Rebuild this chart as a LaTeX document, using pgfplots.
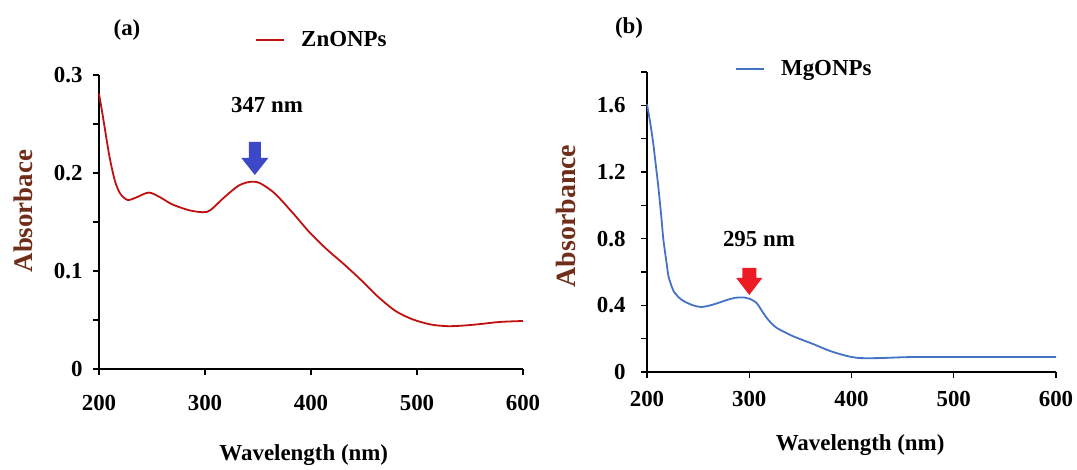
\documentclass[border=0pt]{standalone}
\usepackage{pgfplots}
\pgfplotsset{compat=1.18}
\usepackage{fontspec}
\setmainfont{Liberation Serif}

\definecolor{zncurve}{RGB}{192,16,16}
\definecolor{mgcurve}{RGB}{68,114,196}
\definecolor{arrowblue}{RGB}{60,72,200}
\definecolor{arrowred}{RGB}{237,28,36}
\definecolor{labelbrown}{RGB}{112,45,25}

\newcommand{\chartfont}{\fontsize{23}{26}\selectfont\bfseries}

\pgfplotsset{
  uvpanel/.style={
    scale only axis,
    clip=false,
    axis x line*=bottom,
    axis y line*=left,
    axis line style={line width=1.6bp, black},
    every tick/.style={line width=1.4bp, black},
    tick align=outside,
    major tick length=6bp,
    enlargelimits=false,
    xmin=200, xmax=600,
    xtick={200,300,400,500,600},
    /pgf/number format/assume math mode=true,
    tick label style={font=\chartfont, black},
    label style={font=\chartfont},
    ylabel style={rotate=0, color=labelbrown},
    legend style={draw=none, fill=none, font=\chartfont, inner sep=0pt,
                  legend cell align=left},
    legend image code/.code={%
      \draw[#1, line width=2bp] (0bp,0bp) -- (28bp,0bp);},
  },
}

% Absorbance spectra
\pgfplotstableread{
wl   abs
200  0.281
203  0.262
206  0.242
210  0.216
215  0.192
220  0.179
227  0.1725
235  0.175
247  0.180
258  0.175
269  0.168
285  0.162
298  0.160
305  0.162
318  0.175
331  0.1866
340  0.1905
347  0.191
353  0.189
366  0.179
383  0.159
399  0.139
415  0.122
431  0.107
448  0.090
464  0.073
480  0.059
496  0.0506
513  0.0454
529  0.0437
545  0.0444
561  0.046
578  0.048
600  0.049
}\zntable

\pgfplotstableread{
wl   abs
200  1.606
203  1.50
206  1.376
209  1.22
211  1.115
214  0.93
216  0.795
219  0.66
221  0.575
224  0.515
226  0.485
231  0.448
236  0.425
245  0.400
253  0.390
262  0.400
270  0.415
278  0.432
286  0.445
295  0.447
300  0.440
307  0.415
312  0.370
317  0.325
322  0.290
327  0.264
335  0.238
343  0.214
353  0.190
364  0.164
372  0.143
380  0.124
389  0.107
397  0.094
407  0.084
420  0.083
431  0.084
448  0.088
464  0.090
498  0.090
550  0.090
600  0.090
}\mgtable

\begin{document}
\begin{tikzpicture}[x=1bp,y=1bp]
\useasboundingbox (0,0) rectangle (1077,470);

% ---------- panel (a): ZnO nanoparticles ----------
\begin{axis}[uvpanel,
  at={(99bp,101bp)}, anchor=south west,
  width=424bp, height=294bp,
  ymin=0, ymax=0.3,
  ytick={0,0.05,0.1,0.15,0.2,0.25,0.3},
  yticklabels={0,,0.1,,0.2,,0.3},
  yticklabel style={xshift=-7bp},
  xticklabel style={yshift=-17bp},
  ylabel={Absorbace},
  ylabel style={at={(axis description cs:-0.179,0.537)}, anchor=center,
                font=\fontsize{27}{30}\selectfont\bfseries},
  xlabel={Wavelength (nm)},
  xlabel style={at={(axis description cs:0.483,-0.293)}, anchor=center},
  legend style={at={(axis description cs:0.368,1.119)}, anchor=west},
]
\addplot[zncurve, line width=1.8bp, smooth, tension=0.5] table[x=wl, y=abs] {\zntable};
\addlegendentry{\hspace{14bp}ZnONPs}
\node[font=\chartfont] at (axis description cs:0.066,1.153) {(a)};
\node[font=\chartfont] at (axis cs:358.5,0.269) {347 nm};
\coordinate (tipA) at (axis cs:347,0.198);
\end{axis}

% ---------- panel (b): MgO nanoparticles ----------
\begin{axis}[uvpanel,
  at={(647bp,98bp)}, anchor=south west,
  width=409bp, height=300bp,
  ymin=0, ymax=1.8,
  ytick={0,0.2,0.4,0.6,0.8,1.0,1.2,1.4,1.6,1.8},
  yticklabels={0,,0.4,,0.8,,1.2,,1.6,},
  yticklabel style={xshift=-12bp},
  xticklabel style={yshift=-10bp},
  ylabel={Absorbance},
  ylabel style={at={(axis description cs:-0.198,0.52)}, anchor=center,
                font=\fontsize{28}{31}\selectfont\bfseries},
  xlabel={Wavelength (nm)},
  xlabel style={at={(axis description cs:0.521,-0.243)}, anchor=center},
  legend style={at={(axis description cs:0.215,1.01)}, anchor=west},
]
\addplot[mgcurve, line width=1.8bp, smooth, tension=0.5] table[x=wl, y=abs] {\mgtable};
\addlegendentry{\hspace{14bp}MgONPs}
\node[font=\chartfont] at (axis description cs:-0.044,1.147) {(b)};
\node[font=\chartfont] at (axis cs:309.5,0.798) {295 nm};
\coordinate (tipB) at (axis cs:300,0.462);
\end{axis}

% peak markers: block arrows pointing down at the absorption maxima
\fill[arrowblue] (tipA) -- ++(-13.5,17) -- ++(7.5,0) -- ++(0,16)
  -- ++(12,0) -- ++(0,-16) -- ++(7.5,0) -- cycle;
\fill[arrowred] (tipB) -- ++(-13,17) -- ++(6,0) -- ++(0,10)
  -- ++(14,0) -- ++(0,-10) -- ++(6,0) -- cycle;
\end{tikzpicture}
\end{document}
